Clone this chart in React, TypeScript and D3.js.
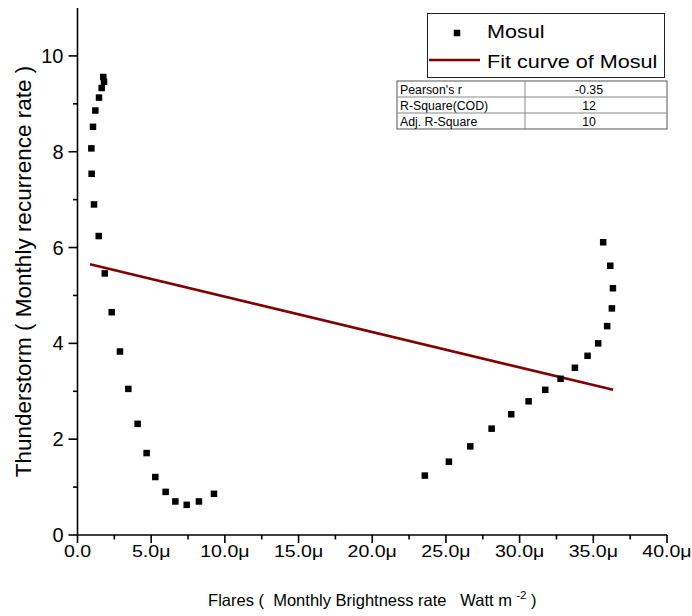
import React from "react";
import * as d3 from "d3";

// Mosul: monthly flare brightness (μW m^-2) vs. monthly thunderstorm recurrence
const flareX = [
  1.75, 1.8, 1.64, 1.46, 1.21, 1.05, 0.94, 0.96, 1.12, 1.44, 1.85,
  2.32, 2.88, 3.45, 4.08, 4.69, 5.28, 5.98, 6.64, 7.41, 8.24, 9.26,
  23.57, 25.2, 26.65, 28.1, 29.43, 30.61, 31.74, 32.78, 33.75, 34.61,
  35.33, 35.94, 36.26, 36.33, 36.15, 35.67,
];
const stormY = [
  9.56, 9.46, 9.33, 9.13, 8.86, 8.52, 8.07, 7.54, 6.9, 6.24, 5.46,
  4.65, 3.83, 3.05, 2.32, 1.71, 1.21, 0.9, 0.7, 0.63, 0.7, 0.86,
  1.24, 1.53, 1.85, 2.22, 2.52, 2.79, 3.03, 3.26, 3.49, 3.74,
  4.0, 4.36, 4.73, 5.15, 5.62, 6.11,
];

// Linear fit endpoints
const fitX = [0.85, 36.35];
const fitY = [5.65, 3.03];

const statLabels = ["Pearson's r", "R-Square(COD)", "Adj. R-Square"];
const statValues = ["-0.35", "12", "10"];

const xMajor = [0, 5, 10, 15, 20, 25, 30, 35, 40];
const xMinor = [2.5, 7.5, 12.5, 17.5, 22.5, 27.5, 32.5, 37.5];
const yMajor = [0, 2, 4, 6, 8, 10];
const yMinor = [1, 3, 5, 7, 9];

const W = 692;
const H = 616;
const FONT = "'Liberation Sans', Arial, sans-serif";

export default function App() {
  const x = d3.scaleLinear().domain([0, 40]).range([77.5, 667]);
  const y = d3.scaleLinear().domain([0, 11]).range([535, 8]);
  const fmtX = (d: number) => (d === 0 ? "0.0" : d.toFixed(1) + "μ");
  const line = d3
    .line<number>()
    .x((d) => x(d))
    .y((_, i) => y(fitY[i]));
  const ms = 6.5;

  const tblL = 397;
  const tblR = 667;
  const tblMid = 525;
  const tblT = 81;
  const rowH = 16;

  return (
    <svg
      width={W}
      height={H}
      style={{ position: "absolute", left: 0, top: 0, background: "#fff" }}
      fontFamily={FONT}
    >
      {/* axes */}
      <line x1={x(0)} x2={x(40)} y1={y(0)} y2={y(0)} stroke="#000" strokeWidth={1.6} />
      <line x1={x(0)} x2={x(0)} y1={y(0)} y2={y(11)} stroke="#000" strokeWidth={1.6} />
      {xMajor.map((d) => (
        <g key={"xm" + d}>
          <line x1={x(d)} x2={x(d)} y1={y(0)} y2={y(0) + 8} stroke="#000" strokeWidth={1.6} />
          <text
            transform={`translate(${x(d)},557) scale(1.15,1)`}
            fontSize={17}
            textAnchor="middle"
            fill="#000"
          >
            {fmtX(d)}
          </text>
        </g>
      ))}
      {xMinor.map((d) => (
        <line key={"xn" + d} x1={x(d)} x2={x(d)} y1={y(0)} y2={y(0) + 4.5} stroke="#000" strokeWidth={1.6} />
      ))}
      {yMajor.map((d) => (
        <g key={"ym" + d}>
          <line x1={x(0) - 9} x2={x(0)} y1={y(d)} y2={y(d)} stroke="#000" strokeWidth={1.6} />
          <text x={x(0) - 14} y={y(d) + 7} fontSize={20} textAnchor="end" fill="#000">
            {d}
          </text>
        </g>
      ))}
      {yMinor.map((d) => (
        <line key={"yn" + d} x1={x(0) - 4.5} x2={x(0)} y1={y(d)} y2={y(d)} stroke="#000" strokeWidth={1.6} />
      ))}

      {/* axis titles */}
      <text
        transform={`translate(31,${(y(0) + y(11)) / 2}) rotate(-90)`}
        fontSize={22.5}
        textAnchor="middle"
        fill="#000"
      >
        Thunderstorm ( Monthly recurrence rate )
      </text>
      <text
        x={(x(0) + x(40)) / 2}
        y={606}
        fontSize={16.5}
        textAnchor="middle"
        fill="#000"
        style={{ whiteSpace: "pre" }}
        xmlSpace="preserve"
      >
        {"Flares (  Monthly Brightness rate   Watt m "}
        <tspan dy={-7} fontSize={11}>-2</tspan>
        <tspan dy={7}>{" )"}</tspan>
      </text>

      {/* fit line */}
      <path d={line(fitX) || ""} fill="none" stroke="#800000" strokeWidth={2.6} />

      {/* data points */}
      {flareX.map((v, i) => (
        <rect
          key={"p" + i}
          x={x(v) - ms / 2}
          y={y(stormY[i]) - ms / 2}
          width={ms}
          height={ms}
          fill="#000"
        />
      ))}

      {/* legend */}
      <rect x={427.5} y={13.5} width={237} height={64} fill="#fff" stroke="#222" strokeWidth={1} />
      <rect x={457 - ms / 2} y={33 - ms / 2} width={ms} height={ms} fill="#000" />
      <text transform="translate(487,38) scale(1.2,1)" fontSize={18} fill="#000">Mosul</text>
      <line x1={429} x2={480} y1={60} y2={60} stroke="#800000" strokeWidth={2.6} />
      <text transform="translate(487,68) scale(1.2,1)" fontSize={18} fill="#000">Fit curve of Mosul</text>

      {/* statistics table */}
      <rect x={tblL} y={tblT} width={tblR - tblL} height={rowH * 3} fill="#fff" stroke="#555" strokeWidth={1} />
      {statLabels.map((s, i) => (
        <g key={"row" + i}>
          {i > 0 && (
            <line x1={tblL} x2={tblR} y1={tblT + rowH * i} y2={tblT + rowH * i} stroke="#888" strokeWidth={1} />
          )}
          <text x={tblL + 3} y={tblT + rowH * i + 12.5} fontSize={12.3} fill="#000">
            {s}
          </text>
          <text x={589} y={tblT + rowH * i + 12.5} fontSize={12.3} textAnchor="middle" fill="#000">
            {statValues[i]}
          </text>
        </g>
      ))}
      <line x1={tblMid} x2={tblMid} y1={tblT} y2={tblT + rowH * 3} stroke="#888" strokeWidth={1} />
    </svg>
  );
}
